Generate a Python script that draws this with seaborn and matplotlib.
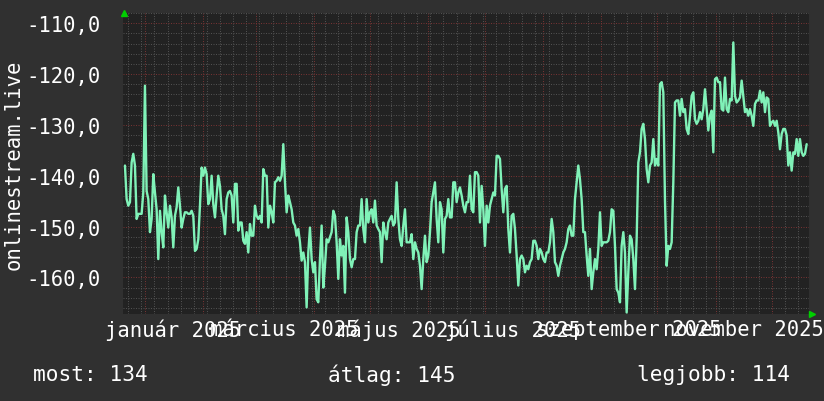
import matplotlib
matplotlib.use("Agg")
import matplotlib.pyplot as plt
import matplotlib.dates as mdates
import matplotlib.ticker as mticker
import matplotlib.transforms as mtrans
import numpy as np
import pandas as pd
import seaborn as sns

# ---------------- data ----------------
series_start = "2024-12-21 08:00"
series_end = "2025-12-19 12:00"

seg_dec_mar = [
    -138.0, -144.6, -145.9, -145.2, -137.4, -135.7, -138.0, -148.5, -147.5, -147.5,
    -147.5, -143.3, -122.3, -143.0, -144.6, -151.1, -148.5, -139.7, -143.3, -146.6,
    -156.4, -146.9, -151.1, -154.1, -143.9, -147.2, -150.2, -145.9, -148.2, -154.1,
    -147.9, -146.2, -142.3, -145.9, -150.2, -148.5, -147.2, -147.2, -147.5, -147.5,
    -146.9, -147.9, -154.8, -154.4, -152.5, -145.9, -138.4, -140.0, -138.4, -139.7,
    -145.6, -144.6, -140.0, -145.6, -148.2, -143.9, -140.0, -142.0, -146.6, -147.9,
    -151.5, -144.6, -143.3, -143.0, -143.9, -149.2, -141.6, -141.6, -150.8, -149.2,
    -149.2, -152.8, -153.4, -151.1, -155.1, -149.5, -151.8, -151.8,
]
seg_mar_jun = [
    -145.9, -147.9, -148.5, -147.9, -149.2, -138.7, -140.0, -140.0, -150.2, -145.9,
    -147.2, -149.2, -141.3, -141.0, -140.3, -141.0, -140.0, -133.8, -141.3, -147.2,
    -143.9, -145.2, -146.6, -149.2, -149.8, -151.8, -150.5, -153.1, -156.7, -155.1,
    -157.0, -165.9, -155.1, -150.2, -156.4, -159.0, -157.0, -164.3, -164.9, -156.4,
    -149.8, -162.0, -157.7, -152.5, -153.1, -152.1, -151.1, -146.9, -147.9, -153.1,
    -160.3, -152.5, -155.7, -153.8, -163.0, -148.2, -151.1, -156.4, -158.0, -156.4,
    -156.4, -151.1, -149.8, -149.8, -144.6, -150.5, -153.1, -144.6, -149.2, -147.2,
    -146.6, -149.2, -144.9, -149.8, -150.5, -151.1, -157.0, -149.2, -151.1, -152.5,
    -149.2,
]
seg_jun_aug = [
    -148.5, -147.9, -149.8, -149.2, -141.3, -148.5, -152.5, -153.8, -149.8, -146.6,
    -153.1, -153.1, -153.1, -151.5, -156.4, -153.1, -154.4, -155.1, -157.7, -162.3,
    -156.4, -151.8, -157.0, -155.7, -151.1, -145.2, -143.3, -141.3, -148.5, -153.1,
    -145.2, -146.6, -155.1, -148.5, -147.9, -144.6, -148.2, -148.2, -141.3, -141.3,
    -145.2, -143.3, -142.3, -143.9, -145.9, -147.2, -145.2, -145.2, -140.0, -146.6,
    -147.2, -139.3, -139.3, -140.0, -149.2, -142.0, -146.6, -153.8, -145.9, -149.2,
    -145.9, -144.6, -143.3, -143.9, -136.1, -136.1, -136.7, -142.6, -147.2, -142.6,
    -142.0, -150.5, -155.1, -147.9, -147.5, -150.5, -155.7, -161.6, -156.4, -155.7,
    -156.4,
]
seg_aug_oct = [
    -159.0, -157.7, -158.4, -157.0, -156.4, -152.8, -152.8, -153.8, -156.4, -154.4,
    -155.1, -156.4, -157.0, -155.1, -155.1, -153.1, -148.5, -151.1, -157.0, -157.7,
    -159.7, -157.7, -156.4, -155.1, -154.4, -153.1, -150.5, -149.8, -151.8, -151.8,
    -144.6, -141.3, -138.0, -140.7, -144.6, -151.1, -151.1, -155.7, -159.7, -154.4,
    -162.3, -159.0, -156.4, -158.4, -154.4, -147.2, -153.8, -153.1, -153.1, -153.1,
    -152.8, -151.1, -146.6, -146.9, -153.8, -162.3, -163.0, -164.9, -153.8, -151.1,
    -155.1, -166.9, -159.0, -151.8, -152.5, -156.4, -162.3, -152.5, -137.4, -135.4,
    -130.8, -129.8, -132.8, -138.7, -141.3, -138.0, -137.4, -132.8, -138.0, -136.7,
    -138.0,
]
seg_oct_dec = [
    -122.0, -121.6, -123.6, -144.9, -157.7, -153.8, -154.4, -153.1, -141.3, -125.6,
    -125.2, -125.2, -128.2, -124.9, -127.5, -126.9, -130.8, -131.8, -128.2, -124.3,
    -123.6, -128.9, -129.8, -129.2, -127.5, -128.9, -126.9, -123.0, -126.9, -131.1,
    -128.2, -127.2, -135.4, -121.0, -120.7, -121.6, -121.6, -126.9, -127.2, -120.7,
    -126.9, -127.5, -124.9, -125.2, -113.8, -124.3, -125.6, -125.2, -124.6, -121.3,
    -124.3, -127.5, -126.9, -128.2, -126.9, -128.2, -130.2, -125.9, -125.2, -125.2,
    -123.3, -125.6, -123.6, -127.5, -124.6, -124.9, -130.2, -129.5, -129.2, -130.2,
    -129.2, -131.5, -134.8, -131.8, -130.8, -130.8, -132.1, -138.0, -135.4, -139.0,
    -135.4, -135.7, -132.8, -136.1, -132.8, -135.4, -136.1, -135.7, -133.8,
]

y_ticks = [-160, -150, -140, -130, -120, -110]
x_label_dates = ["2025-01-16", "2025-03-16", "2025-05-16", "2025-07-16", "2025-09-16", "2025-11-16"]
x_label_texts = ["január 2025", "március 2025", "május 2025", "július 2025",
                 "szeptember 2025", "november 2025"]
y_title = "onlinestream.live"
stat_texts = ["most: 134", "átlag: 145", "legjobb: 114"]

# ---------------- build frame ----------------
values = seg_dec_mar + seg_mar_jun + seg_jun_aug + seg_aug_oct + seg_oct_dec
dates = pd.date_range(series_start, series_end, periods=len(values))
df = pd.DataFrame({"date": dates, "value": values})

# ---------------- style ----------------
sns.set_style("dark")
plt.rcParams["font.family"] = ["DejaVu Sans Mono", "DejaVu Sans"]

OUTER = "#303030"
PLOT_BG = "#222222"
MINOR = "#505050"
MAJOR = "#743232"
LINE = "#80f2b8"
TEXT = "#ffffff"

W, H = 824, 402
fig = plt.figure(figsize=(W / 100, H / 100), dpi=100, facecolor=OUTER)
left, right, top, bottom = 123, 809, 14, 315
ax = fig.add_axes([left / W, 1 - bottom / H, (right - left) / W, (bottom - top) / H])
ax.set_facecolor(PLOT_BG)

sns.lineplot(data=df, x="date", y="value", ax=ax, color=LINE, linewidth=1.7,
             zorder=5, legend=False)

ax.set_xlim(pd.Timestamp("2024-12-20 07:00"), pd.Timestamp("2025-12-20 18:00"))
ax.set_ylim(-167.2, -108.0)

# grid
ax.xaxis.set_major_locator(mdates.MonthLocator())
ax.xaxis.set_minor_locator(mdates.WeekdayLocator(byweekday=mdates.MO))
ax.xaxis.set_major_formatter(mticker.NullFormatter())
ax.set_yticks(y_ticks)
ax.yaxis.set_minor_locator(mticker.MultipleLocator(2))
ax.yaxis.set_major_formatter(mticker.FuncFormatter(lambda v, p: f"{v:.1f}".replace(".", ",")))

ax.grid(which="minor", color=MINOR, linestyle=(0, (1, 1.5)), linewidth=0.72)
ax.grid(which="major", color=MAJOR, linestyle=(0, (1, 1.5)), linewidth=0.72)
ax.set_axisbelow(True)

ax.tick_params(axis="y", which="major", labelsize=14.8, colors="#606060",
               labelcolor=TEXT, length=3, pad=13)
ax.tick_params(axis="y", which="minor", length=0)
ax.tick_params(axis="x", which="major", colors=MAJOR, length=3)
ax.tick_params(axis="x", which="minor", colors="#606060", length=2)
for s in ax.spines.values():
    s.set_visible(False)
ax.set_xlabel("")
ax.set_ylabel("")

# month labels
trans = mtrans.blended_transform_factory(ax.transData, ax.transAxes)
for d, t in zip(x_label_dates, x_label_texts):
    ax.text(pd.Timestamp(d), -0.05, t, transform=trans, ha="center", va="center",
            fontsize=14.8, color=TEXT, clip_on=False)

# arrows
ax.plot([0.002], [1.0], marker="^", color="#00d000", markersize=5,
        transform=ax.transAxes, clip_on=False)
ax.plot([1.004], [0.0], marker=">", color="#00d000", markersize=5,
        transform=ax.transAxes, clip_on=False)

# y title
fig.text(14 / W, 1 - 165 / H, y_title, rotation=90, ha="center", va="center",
         fontsize=14.8, color=TEXT)

# stats
stat_x = [33, 328, 637]
for x, t in zip(stat_x, stat_texts):
    fig.text(x / W, 1 - 375 / H, t, ha="left", va="center", fontsize=15.2, color=TEXT)

fig.savefig("out.png", dpi=100, facecolor=OUTER)
